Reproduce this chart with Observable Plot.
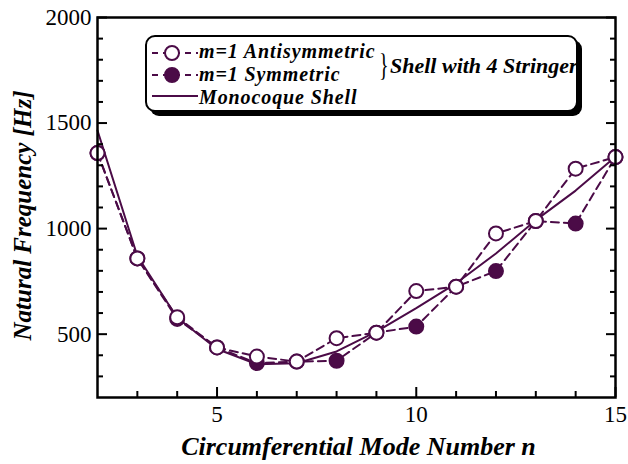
<!DOCTYPE html>
<html>
<head>
<meta charset="utf-8">
<script src="https://cdn.jsdelivr.net/npm/d3@7"></script>
<script src="https://cdn.jsdelivr.net/npm/@observablehq/plot@0.6"></script>
<style>
  body { margin: 0; background: #fff; }
  #chart { width: 628px; height: 464px; }
</style>
</head>
<body>
<div id="chart"></div>
<script>
// Circumferential mode numbers n
const modes = [2, 3, 4, 5, 6, 7, 8, 9, 10, 11, 12, 13, 14, 15];
// Natural frequencies [Hz], shell with 4 stringers, m = 1
const antisymmetric = [1358, 859, 580, 437, 394, 370, 481, 507, 704, 725, 977, 1036, 1284, 1339];
const symmetric     = [1358, 859, 572, 437, 363, 370, 374, 507, 536, 725, 799, 1036, 1024, 1339];
// Natural frequencies [Hz], monocoque shell
const monocoque     = [1465, 870, 578, 430, 358, 362, 418, 512, 623, 741, 882, 1040, 1180, 1340];

const xMajor = [5, 10, 15];
const xMinor = [3, 4, 6, 7, 8, 9, 11, 12, 13, 14];
const yMajor = [500, 1000, 1500, 2000];
const yMinor = [300, 400, 600, 700, 800, 900, 1100, 1200, 1300, 1400, 1600, 1700, 1800, 1900];

const legendRows = ["m=1 Antisymmetric", "m=1 Symmetric", "Monocoque Shell"];
const braceNote = "Shell with 4 Stringer";
const xTitle = "Circumferential Mode Number n";
const yTitle = "Natural Frequency [Hz]";

const ink = "#4b0b47";
const rows = modes.map((n, i) => ({n, anti: antisymmetric[i], sym: symmetric[i], mono: monocoque[i]}));
const dash = "8,5";
const blank = () => "";
const plain = d => `${d}`;

const svg = Plot.plot({
  width: 628,
  height: 464,
  marginLeft: 97,
  marginRight: 13,
  marginTop: 17,
  marginBottom: 67,
  style: {fontFamily: "'Liberation Serif', 'Times New Roman', serif", fontSize: "23px", color: "#000", background: "#fff"},
  x: {domain: [2, 15], label: null},
  y: {domain: [200, 2000], label: null},
  marks: [
    // curves
    Plot.line(rows, {x: "n", y: "sym", stroke: ink, strokeWidth: 2, strokeDasharray: dash}),
    Plot.line(rows, {x: "n", y: "anti", stroke: ink, strokeWidth: 2, strokeDasharray: dash}),
    Plot.line(rows, {x: "n", y: "mono", stroke: ink, strokeWidth: 2}),
    Plot.dot(rows, {x: "n", y: "sym", r: 7, fill: ink, stroke: ink, strokeWidth: 2}),
    Plot.dot(rows, {x: "n", y: "anti", r: 7, fill: "#fff", stroke: ink, strokeWidth: 2}),
    // frame
    Plot.frame({stroke: "#000", strokeWidth: 2.5}),
    // tick labels
    Plot.axisY(yMajor, {anchor: "left", tickSize: 0, tickPadding: 6, tickFormat: plain, label: null}),
    Plot.axisX(xMajor, {anchor: "bottom", tickSize: 0, tickPadding: 8, tickFormat: plain, label: null}),
    // inward ticks
    Plot.axisY(yMajor, {anchor: "left", tickSize: -10, strokeWidth: 2, tickFormat: blank, label: null}),
    Plot.axisY(yMinor, {anchor: "left", tickSize: -6, strokeWidth: 2, tickFormat: blank, label: null}),
    Plot.axisY(yMajor, {anchor: "right", tickSize: -10, strokeWidth: 2, tickFormat: blank, label: null}),
    Plot.axisY(yMinor, {anchor: "right", tickSize: -6, strokeWidth: 2, tickFormat: blank, label: null}),
    Plot.axisX(xMajor, {anchor: "bottom", tickSize: -10, strokeWidth: 2, tickFormat: blank, label: null}),
    Plot.axisX(xMinor, {anchor: "bottom", tickSize: -6, strokeWidth: 2, tickFormat: blank, label: null}),
    // axis titles
    Plot.text([yTitle], {text: d => d, frameAnchor: "left", rotate: -90, dx: -75, dy: 8,
      fontSize: 25, fontWeight: "bold", fontStyle: "italic", textAnchor: "middle", lineAnchor: "middle", fill: "#000"}),
    Plot.text([xTitle], {text: d => d, frameAnchor: "bottom", dx: 2, dy: 49,
      fontSize: 26, fontWeight: "bold", fontStyle: "italic", textAnchor: "middle", lineAnchor: "middle", fill: "#000"})
  ]
});

// legend box with drop shadow
const lg = d3.select(svg).append("g")
  .attr("text-anchor", "start")
  .attr("font-family", "'Liberation Serif', 'Times New Roman', serif")
  .attr("font-weight", "bold").attr("font-style", "italic");
lg.append("rect").attr("x", 150).attr("y", 40).attr("width", 432).attr("height", 76).attr("rx", 9).attr("fill", "#000");
lg.append("rect").attr("x", 146).attr("y", 36).attr("width", 431).attr("height", 75).attr("rx", 9)
  .attr("fill", "#fff").attr("stroke", "#000").attr("stroke-width", 2);

const rowY = [53, 75, 96];
const baseY = [58, 81, 104];
// dashed line with marker for the two stringer-shell rows
[0, 1].forEach(i => {
  lg.append("line").attr("x1", 152).attr("x2", 198).attr("y1", rowY[i]).attr("y2", rowY[i])
    .attr("stroke", ink).attr("stroke-width", 2).attr("stroke-dasharray", "6,5");
  lg.append("circle").attr("cx", 172).attr("cy", rowY[i]).attr("r", 7)
    .attr("fill", i === 0 ? "#fff" : ink).attr("stroke", ink).attr("stroke-width", 2);
});
lg.append("line").attr("x1", 152).attr("x2", 198).attr("y1", rowY[2]).attr("y2", rowY[2])
  .attr("stroke", ink).attr("stroke-width", 2);
legendRows.forEach((t, i) => {
  lg.append("text").attr("x", 199).attr("y", baseY[i]).attr("font-size", 20)
    .attr("letter-spacing", "0.9px").attr("fill", "#000").text(t);
});
lg.append("text").attr("x", 0).attr("y", 0).attr("font-weight", "normal").attr("font-style", "normal")
  .attr("font-size", 20).attr("transform", "translate(379,76) scale(1,1.6)").attr("fill", "#000").text("}");
lg.append("text").attr("x", 390).attr("y", 73).attr("font-size", 22).attr("fill", "#000").text(braceNote);

document.getElementById("chart").appendChild(svg);
</script>
</body>
</html>
